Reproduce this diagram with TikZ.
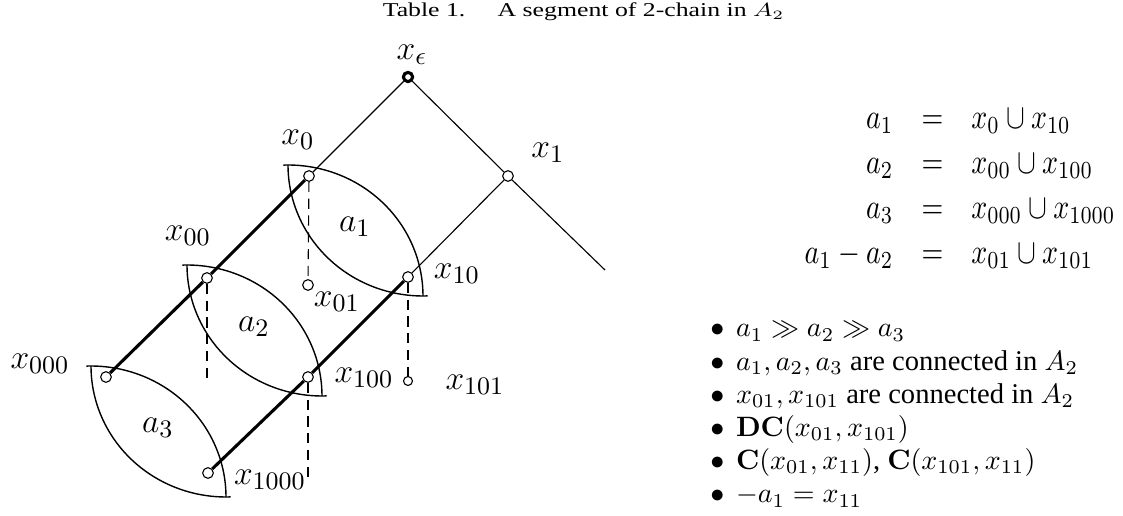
\documentclass[tikz,border=0pt]{standalone}
\usepackage{graphicx}
\usepackage[no-math]{fontspec}
\setmainfont{Liberation Serif}
\colorlet{colTrazo}{black}
\tikzset{
  nodoHoja/.style={circle, draw=colTrazo, fill=white, line width=0.4pt,
    minimum size=3.8pt, inner sep=0pt},
  nodoRaiz/.style={nodoHoja, line width=1.1pt, minimum size=3.3pt},
  nodoChico/.style={nodoHoja, minimum size=3.2pt},
  arista/.style={line width=0.4pt, colTrazo},
  aristaGruesa/.style={line width=1.1pt, colTrazo},
  aristaPunteada/.style={line width=0.4pt, colTrazo, dash pattern=on 3.6pt off 2.4pt},
  trazoLente/.style={line width=0.5pt, colTrazo},
  etiquetaNodo/.style={font=\fontsize{13}{15}\selectfont, inner sep=0pt},
  etiquetaRegion/.style={font=\fontsize{12.5}{14}\selectfont, inner sep=0pt},
}

\begin{document}
\begin{tikzpicture}[x=0.357pt, y=-0.357pt]
  \useasboundingbox (0,0) rectangle (1123,516);
  \node[font=\fontsize{9.2}{11}\selectfont, anchor=base, inner sep=0pt] (titulo) at (583.5,17)
    {\scalebox{1}[0.76]{Table 1.\quad\ A segment of 2-chain in $A_2$}};

  % regiones a_1, a_2, a_3
  \foreach \x/\y/\i in {288/165/1, 187/265/2, 91/366/3}{
    \draw[trazoLente] (\x,{\y+131}) ++(268:135 and 131)
      arc[start angle=268, end angle=360, x radius=135, y radius=131];
    \draw[trazoLente] (\x,\y)
      arc[start angle=180, end angle=88, x radius=135, y radius=131];
    \node[etiquetaRegion] (a\i) at ({\x+67},{\y+62}) {$a_{\i}$};
  }

  % arbol
  \node[nodoRaiz] (xe) at (408,77) {};
  \node[nodoHoja] (x0) at (309,176) {};
  \node[nodoHoja] (x1) at (508,176) {};
  \node[nodoHoja] (x00) at (207,278) {};
  \node[nodoHoja] (x01) at (308,285) {};
  \node[nodoHoja] (x10) at (408,277) {};
  \node[nodoHoja] (x000) at (106,377) {};
  \node[nodoHoja] (x100) at (308,377) {};
  \node[nodoChico] (x101) at (408,381) {};
  \node[nodoHoja] (x1000) at (208,473) {};
  \coordinate (ramaDer) at (605,270);
  \coordinate (finX00) at (207,378);
  \coordinate (finX100) at (308,482);

  \draw[arista] (xe) -- (x0);
  \draw[arista] (xe) -- (x1);
  \draw[arista] (x1) -- (x10);
  \draw[arista] (x1) -- (ramaDer);
  \draw[aristaGruesa] (x0) -- (x00);
  \draw[aristaGruesa] (x00) -- (x000);
  \draw[aristaGruesa] (x10) -- (x100);
  \draw[aristaGruesa] (x100) -- (x1000);
  \draw[aristaPunteada] (x0) -- (x01);
  \draw[aristaPunteada] (x00) -- (finX00);
  \draw[aristaPunteada] (x10) -- (x101);
  \draw[aristaPunteada] (x100) -- (finX100);

  \node[etiquetaNodo] (lxe) at (412,55) {$x_\epsilon$};
  \node[etiquetaNodo] (lx0) at (298,140) {$x_0$};
  \node[etiquetaNodo] (lx1) at (548,153) {$x_1$};
  \node[etiquetaNodo] (lx00) at (188,236) {$x_{00}$};
  \node[etiquetaNodo] (lx01) at (337,302) {$x_{01}$};
  \node[etiquetaNodo] (lx10) at (457,274) {$x_{10}$};
  \node[etiquetaNodo] (lx000) at (40,364) {$x_{000}$};
  \node[etiquetaNodo] (lx100) at (364,378) {$x_{100}$};
  \node[etiquetaNodo] (lx101) at (475,385) {$x_{101}$};
  \node[etiquetaNodo] (lx1000) at (270,480) {$x_{1000}$};

  % ecuaciones y propiedades
  \node[anchor=west, inner sep=0pt, font=\fontsize{10.1}{12.8}\selectfont] (ecuaciones) at (804,187)
    {\scalebox{1}[1.25]{$\arraycolsep=5pt\begin{array}{@{}rcl@{}}
      a_1 & = & x_0 \cup x_{10}\\
      a_2 & = & x_{00} \cup x_{100}\\
      a_3 & = & x_{000} \cup x_{1000}\\
      a_1 - a_2 & = & x_{01} \cup x_{101}
    \end{array}$}};
  \node[anchor=west, inner sep=0pt, font=\fontsize{10.2}{11.85}\selectfont] (propiedades) at (709.7,413.3)
    {\begin{tabular}{@{}l@{\hspace{4.2pt}}l@{}}
      $\bullet$ & $a_1 \gg a_2 \gg a_3$\\
      $\bullet$ & $a_1, a_2, a_3$ are connected in $A_2$\\
      $\bullet$ & $x_{01}, x_{101}$ are connected in $A_2$\\
      $\bullet$ & $\mathbf{DC}(x_{01}, x_{101})$\\
      $\bullet$ & $\mathbf{C}(x_{01}, x_{11})$, $\mathbf{C}(x_{101}, x_{11})$\\
      $\bullet$ & $-a_1 = x_{11}$
    \end{tabular}};
\end{tikzpicture}
\end{document}
